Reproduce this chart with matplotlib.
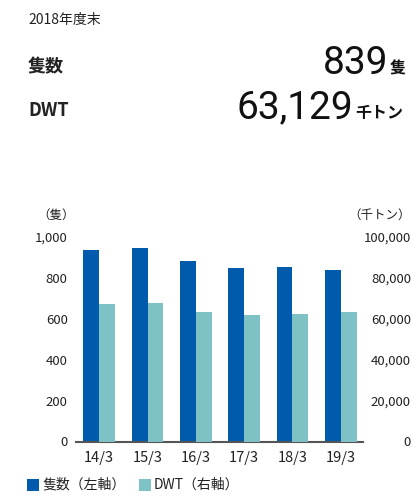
import matplotlib
matplotlib.use("Agg")
import matplotlib.pyplot as plt
import numpy as np
from matplotlib.patches import Rectangle

plt.rcParams['font.family'] = ['Noto Sans CJK JP', 'DejaVu Sans']

categories = ["14/3", "15/3", "16/3", "17/3", "18/3", "19/3"]
vessels = [937, 946, 883, 849, 854, 839]
dwt = [67300, 67800, 63300, 61900, 62400, 63129]
left_ticks = [0, 200, 400, 600, 800, 1000]
right_ticks = [0, 20000, 40000, 60000, 80000, 100000]

c_dark = "#005BAC"
c_light = "#7FC2C6"
txt = "#222222"

W, H = 413, 497
fig = plt.figure(figsize=(W / 100, H / 100), dpi=100)

def fx(px):
    return px / W

def fy(py):
    return 1 - py / H

num_font = ['Roboto', 'DejaVu Sans']

# Header
fig.text(fx(28), fy(20), "2018年度末", fontsize=10, color=txt, va='center', ha='left')
fig.text(fx(28), fy(67), "隻数", fontsize=13, fontweight='bold', color=txt, va='center', ha='left')
fig.text(fx(388), fy(73.5), "839", fontsize=28, family=num_font,
         color="#111111", va='baseline', ha='right')
fig.text(fx(390), fy(73.5), "隻", fontsize=11.5, fontweight='bold', color="#111111", va='baseline', ha='left')
fig.text(fx(28), fy(110), "DWT", fontsize=13, fontweight='bold', color=txt, va='center', ha='left')
fig.text(fx(353), fy(118), "63,129", fontsize=28, family=num_font,
         color="#111111", va='baseline', ha='right')
fig.text(fx(355), fy(118), "千トン", fontsize=11.5, fontweight='bold', color="#111111", va='baseline', ha='left')

# Chart axes
left, right = 76, 363
top, bottom = 237, 441.5
ax = fig.add_axes([fx(left), fy(bottom), (right - left) / W, (bottom - top) / H])
ax2 = ax.twinx()

x = np.arange(len(categories))
bw = 0.33
ax.bar(x - bw / 2, vessels, width=bw, color=c_dark, zorder=2)
ax2.bar(x + bw / 2, dwt, width=bw, color=c_light, zorder=2)

ax.set_xlim(-0.48, len(categories) - 1 + 0.46)
ax.set_ylim(0, 1000)
ax2.set_ylim(0, 100000)

for a in (ax, ax2):
    for s in ('top', 'left', 'right', 'bottom'):
        a.spines[s].set_visible(False)
ax.axhline(0, color="#555555", linewidth=1.5, zorder=3, clip_on=False)

ax.set_xticks(x)
ax.set_xticklabels(categories)
ax.set_yticks(left_ticks)
ax.set_yticklabels([f"{v:,}" for v in left_ticks])
ax2.set_yticks(right_ticks)
ax2.set_yticklabels([f"{v:,}" for v in right_ticks])

ax.tick_params(axis='x', length=0, pad=7, labelsize=10.5, colors=txt)
ax.tick_params(axis='y', length=0, pad=6, labelsize=9.5, colors=txt)
ax2.tick_params(axis='y', length=0, pad=34.5, labelsize=9.5, colors=txt)
for lab in ax2.get_yticklabels():
    lab.set_ha('right')

fig.text(fx(56), fy(215), "（隻）", fontsize=9, color=txt, va='center', ha='center')
fig.text(fx(411), fy(215), "（千トン）", fontsize=9, color=txt, va='center', ha='right')

# Legend
fig.patches.append(Rectangle((fx(27), fy(491)), 12 / W, 12 / H, transform=fig.transFigure,
                             facecolor=c_dark, edgecolor='none'))
fig.text(fx(43), fy(485), "隻数（左軸）", fontsize=10, color=txt, va='center', ha='left')
fig.patches.append(Rectangle((fx(139), fy(491)), 12 / W, 12 / H, transform=fig.transFigure,
                             facecolor=c_light, edgecolor='none'))
fig.text(fx(154), fy(485), "DWT（右軸）", fontsize=10, color=txt, va='center', ha='left')

fig.savefig("out.png", dpi=100)
